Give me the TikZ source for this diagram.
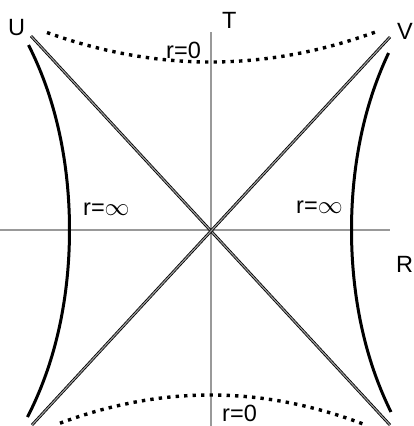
\documentclass[tikz,border=0pt]{standalone}
\usepackage{fontspec}
\setmainfont{Liberation Sans}
\begin{document}
\begin{tikzpicture}[x=1pt,y=-1pt,
  axis/.style={draw=black, double=white!60!black, line width=0.8pt, double distance=1.2pt},
  horizon/.style={line width=3pt, line cap=butt},
  sing/.style={line width=3.4pt, dash pattern=on 3.4pt off 5.1pt},
  lab/.style={inner sep=0pt, anchor=base west, font=\fontsize{23.5}{28}\selectfont}]
\useasboundingbox (0,0) rectangle (413,426);
% axis ends
\coordinate (tTop) at (211,32);
\coordinate (tBot) at (211,428);
\coordinate (xL) at (0,230);
\coordinate (xR) at (390,230);
\coordinate (uTop) at (31,36);
\coordinate (uBot) at (390,425);
\coordinate (vTop) at (390,37);
\coordinate (vBot) at (32,425);
\draw[axis] (xL) -- (xR);
\draw[axis] (tTop) -- (tBot);
\draw[axis] (uTop) -- (uBot);
\draw[axis] (vTop) -- (vBot);
% r = infinity curves
\draw[horizon] plot[domain=45:417, samples=80, variable=\y]
  ({210.5-(141+36*((\y-230)/187)^2+6*((\y-230)/187)^4)}, \y);
\draw[horizon] plot[domain=53:412, samples=80, variable=\y]
  ({210.5+(141+36*((\y-230)/187)^2+6*((\y-230)/187)^4)}, \y);
% r = 0 singularities
\draw[sing] plot[domain=47:377, samples=80, variable=\x]
  (\x, {62-30*((\x-210.5)/165)^2});
\draw[sing] plot[domain=60:365, samples=80, variable=\x]
  (\x, {395+28*((\x-210.5)/150)^2});
% labels
\node[lab] (lU) at (8,35) {U};
\node[lab] (lV) at (397,39) {V};
\node[lab] (lT) at (222,28) {T};
\node[lab] (lR) at (396,272) {R};
\node[lab] (r0t) at (166,58) {r=0};
\node[lab] (r0b) at (222,421) {r=0};
\node[lab] (rinfl) at (83,215) {r=$\infty$};
\node[lab] (rinfr) at (296,213) {r=$\infty$};
\end{tikzpicture}
\end{document}
